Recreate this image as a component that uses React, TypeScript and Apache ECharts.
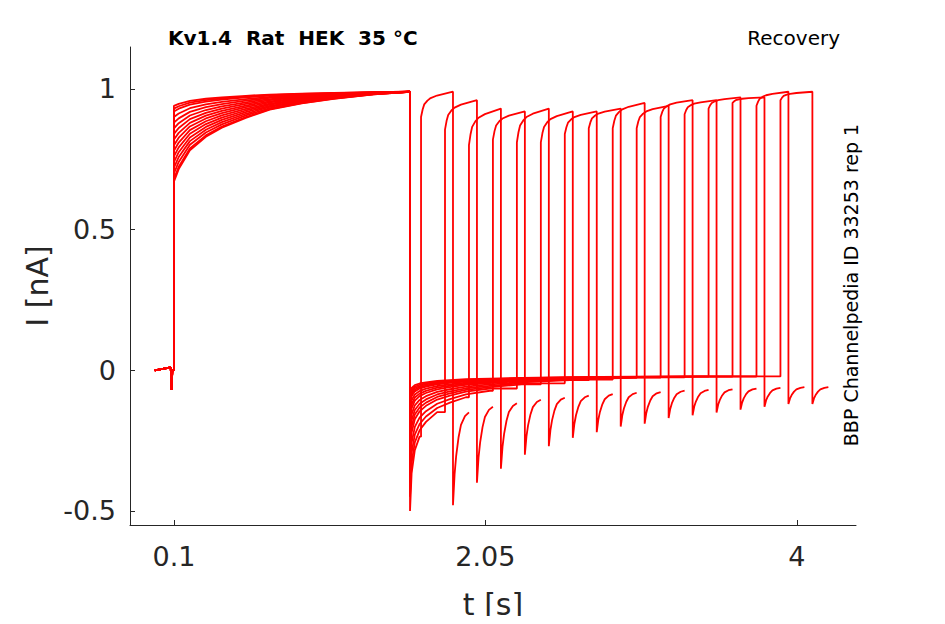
import { useEffect, useRef } from "react";
import * as echarts from "echarts";

// first pulse: current at step onset for each sweep (nA)
const firstOnset = [0.94, 0.93, 0.92, 0.9, 0.88, 0.86, 0.84, 0.82, 0.8, 0.78, 0.76, 0.74, 0.72, 0.7, 0.68, 0.67];
// tail minimum after first pulse
const tail1Min = [-0.5, -0.45, -0.4, -0.35, -0.3, -0.27, -0.24, -0.21, -0.18, -0.16, -0.14, -0.12, -0.11, -0.1, -0.09, -0.08];
// second pulse onset value and end value
const p2Start = [0.9, 0.855, 0.8, 0.82, 0.81, 0.81, 0.84, 0.86, 0.86, 0.86, 0.9, 0.91, 0.93, 0.95, 0.94, 0.96];
const p2End = [0.99, 0.96, 0.93, 0.92, 0.93, 0.92, 0.92, 0.93, 0.95, 0.94, 0.96, 0.96, 0.97, 0.97, 0.99, 0.99];
// tail minimum after second pulse
const tail2Min = [-0.48, -0.4, -0.35, -0.3, -0.27, -0.24, -0.22, -0.2, -0.19, -0.17, -0.16, -0.15, -0.14, -0.13, -0.12, -0.12];
// recovery intervals (s) between pulses
const gaps = [0.069, 0.219, 0.369, 0.519, 0.669, 0.819, 0.969, 1.119, 1.269, 1.419, 1.569, 1.719, 1.869, 2.019, 2.169, 2.319];

// curve shapes
const riseT = [0, 0.03, 0.1, 0.2, 0.3, 0.45, 0.6, 0.8, 1.0, 1.25, 1.478];
const riseF = [0, 0.14, 0.35, 0.5, 0.6, 0.71, 0.8, 0.87, 0.92, 0.97, 1];
const tailT = [0, 0.01, 0.03, 0.06, 0.1, 0.17, 0.25, 0.35, 0.5, 0.7, 1.0, 1.4, 1.8, 2.4];
const tailF = [1, 0.72, 0.55, 0.45, 0.38, 0.3, 0.25, 0.2, 0.16, 0.12, 0.08, 0.05, 0.03, 0.02];
const p2T = [0, 0.01, 0.02, 0.04, 0.06, 0.1, 0.2];
const p2F = [0, 0.3, 0.5, 0.65, 0.75, 0.85, 1];
const t2T = [0, 0.01, 0.02, 0.035, 0.05, 0.075, 0.1];
const t2F = [1, 0.75, 0.6, 0.45, 0.35, 0.28, 0.25];

const xTicks = [0.1, 2.05, 4];
const yTicks = [-0.5, 0, 0.5, 1];
const pulseEnd = 1.578;
const base = -0.02;

function sweep(i: number): number[][] {
  const pts: number[][] = [[-0.02, 0], [0.08, 0.01], [0.085, -0.07], [0.09, 0], [0.1, 0]];
  riseT.forEach((t, j) => pts.push([0.1 + t, firstOnset[i] + (0.99 - firstOnset[i]) * riseF[j]]));
  const g = gaps[i];
  tailT.forEach((t, j) => {
    if (t <= g) pts.push([pulseEnd + t, base + (tail1Min[i] - base) * tailF[j]]);
  });
  const s2 = pulseEnd + g;
  pts.push([s2, pts[pts.length - 1][1]]);
  p2T.forEach((t, j) => pts.push([s2 + t, p2Start[i] + (p2End[i] - p2Start[i]) * p2F[j]]));
  const e2 = s2 + 0.2;
  t2T.forEach((t, j) => pts.push([e2 + t, -0.04 + (tail2Min[i] + 0.04) * t2F[j]]));
  return pts;
}

function App() {
  const ref = useRef<HTMLDivElement | null>(null);

  useEffect(() => {
    if (!ref.current) return;
    const chart = echarts.init(ref.current, null, { renderer: "svg" });
    const series = firstOnset.map((_, i) => ({
      type: "line",
      data: sweep(i),
      showSymbol: false,
      lineStyle: { color: "#ff0000", width: 1.8 },
    }));
    chart.setOption({
      animation: false,
      grid: { left: 130, right: 89, top: 47, bottom: 98 },
      xAxis: {
        type: "value", min: -0.175, max: 4.37,
        axisLine: { onZero: false, lineStyle: { color: "#262626" } },
        axisTick: { inside: true, customValues: xTicks, lineStyle: { color: "#262626" } },
        axisLabel: { customValues: xTicks, fontSize: 27, color: "#262626", margin: 18, fontFamily: "DejaVu Sans" },
        splitLine: { show: false },
        name: "t [s]", nameLocation: "middle", nameGap: 64,
        nameTextStyle: { fontSize: 30, color: "#262626", fontFamily: "DejaVu Sans" },
      },
      yAxis: {
        type: "value", min: -0.55, max: 1.149,
        axisLine: { show: true, onZero: false, lineStyle: { color: "#262626" } },
        axisTick: { show: true, inside: true, customValues: yTicks, lineStyle: { color: "#262626" } },
        axisLabel: { customValues: yTicks, fontSize: 27, color: "#262626", margin: 14, fontFamily: "DejaVu Sans" },
        splitLine: { show: false },
        name: "I [nA]", nameLocation: "middle", nameGap: 78,
        nameTextStyle: { fontSize: 30, color: "#262626", fontFamily: "DejaVu Sans" },
      },
      graphic: [
        { type: "text", left: 168, top: 28, style: { text: "Kv1.4  Rat  HEK  35 °C", font: "bold 20px DejaVu Sans", fill: "#000" } },
        { type: "text", right: 105, top: 28, style: { text: "Recovery", font: "20px DejaVu Sans", fill: "#000" } },
        { type: "text", x: 860, y: 285, rotation: Math.PI / 2, style: { text: "BBP Channelpedia ID 33253 rep 1", font: "19px DejaVu Sans", fill: "#000", align: "center", verticalAlign: "bottom" } },
      ],
      series,
    });
    return () => chart.dispose();
  }, []);

  return <div ref={ref} style={{ width: 945, height: 624, margin: -8 }} />;
}

export default App;
